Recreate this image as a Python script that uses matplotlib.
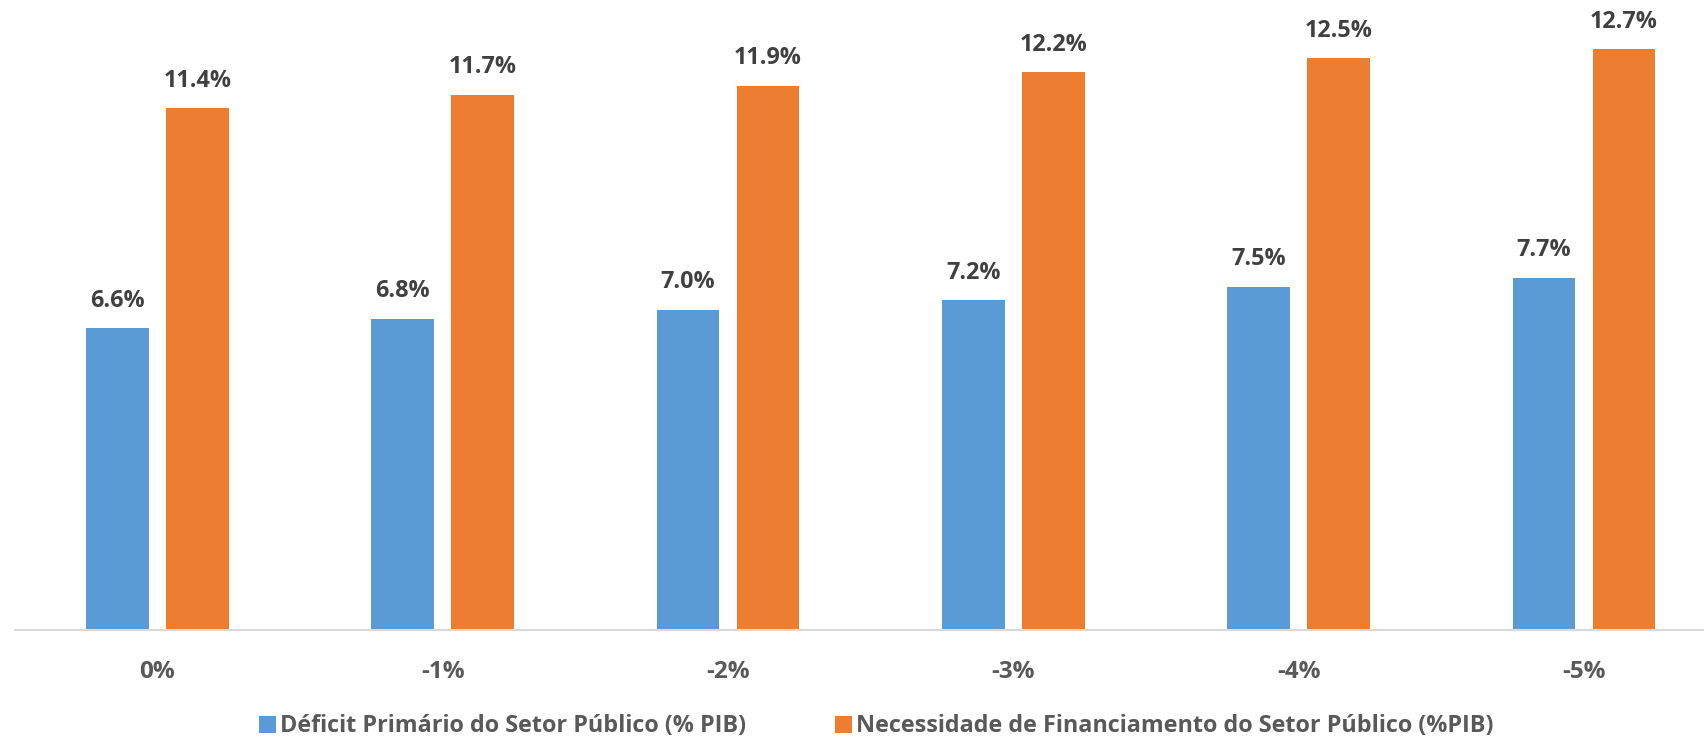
import numpy as np
import matplotlib.pyplot as plt

# data
cenarios = ['0%', '-1%', '-2%', '-3%', '-4%', '-5%']
deficit_primario = [6.6, 6.8, 7.0, 7.2, 7.5, 7.7]
necessidade_fin = [11.4, 11.7, 11.9, 12.2, 12.5, 12.7]
nomes = ['Déficit Primário do Setor Público (% PIB)',
         'Necessidade de Financiamento do Setor Público (%PIB)']

azul = '#5b9bd5'
laranja = '#ed7d31'
cinza_txt = '#595959'
cinza_lbl = '#404040'

plt.rcParams['font.family'] = ['Open Sans', 'DejaVu Sans']

fig = plt.figure(figsize=(17.04, 7.40), dpi=100)
ax = fig.add_axes([0.0086, 0.149, 1.0047, 0.851])

x = np.arange(len(cenarios))
w = 0.22
off = 0.14
b1 = ax.bar(x - off, deficit_primario, w, color=azul, label=nomes[0])
b2 = ax.bar(x + off, necessidade_fin, w, color=laranja, label=nomes[1])

for bars, vals in [(b1, deficit_primario), (b2, necessidade_fin)]:
    for r, v in zip(bars, vals):
        ax.annotate(f'{v:.1f}%', (r.get_x() + r.get_width() / 2, v),
                    xytext=(0, 11), textcoords='offset points',
                    ha='center', va='bottom', fontsize=16.8,
                    fontweight='bold', color=cinza_lbl)

ax.set_xlim(-0.5, len(cenarios) - 0.5)
ax.set_ylim(0, 13.77)
ax.set_xticks(x)
ax.set_xticklabels(cenarios, fontsize=17.5, fontweight='bold', color=cinza_txt)
ax.tick_params(axis='x', length=0, pad=22)
ax.set_yticks([])
for s in ['top', 'right', 'left']:
    ax.spines[s].set_visible(False)
ax.spines['bottom'].set_color('#d9d9d9')
ax.spines['bottom'].set_linewidth(1.5)

leg = fig.legend(loc='lower center', bbox_to_anchor=(0.514, -0.026), ncol=2,
                 frameon=False, handlelength=0.75, handleheight=0.75,
                 handletextpad=0.15, columnspacing=3.8,
                 prop={'size': 16.8, 'weight': 'bold'})
for t in leg.get_texts():
    t.set_color(cinza_txt)

fig.savefig('out.png', dpi=100)
